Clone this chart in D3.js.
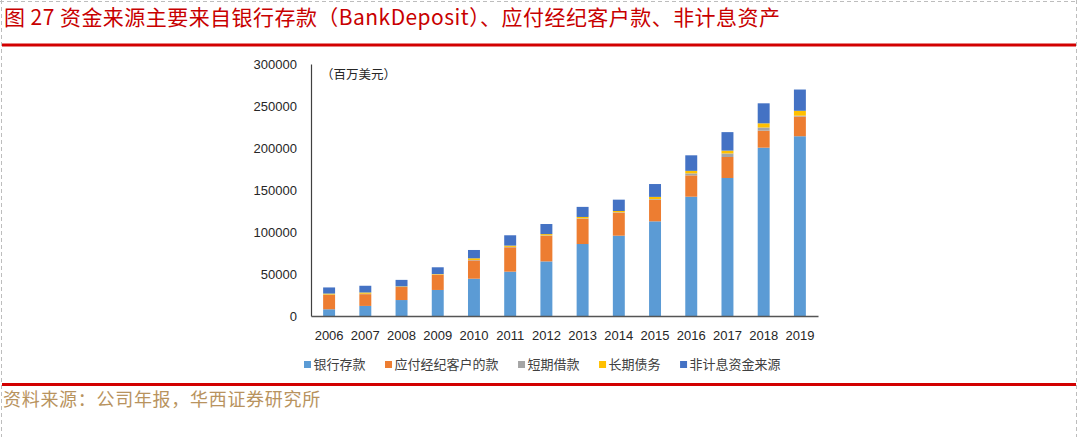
<!DOCTYPE html>
<html>
<head>
<meta charset="utf-8">
<script src="https://cdn.jsdelivr.net/npm/d3@7"></script>
<style>
  html, body { margin: 0; padding: 0; background: #fff; }
  svg { display: block; }
</style>
</head>
<body>
<svg id="chart" width="1080" height="437"></svg>
<script>
// ---- data ----
const years = ["2006","2007","2008","2009","2010","2011","2012","2013","2014","2015","2016","2017","2018","2019"];
const bankDeposits   = [8000, 12000, 19000, 31000, 44400, 52800, 65000, 85700, 95600, 112700, 142000, 164300, 200400, 214000];
const brokerPayables = [17000, 14000, 15500, 18200, 21800, 29000, 30500, 30100, 27400, 25600, 25400, 25000, 20200, 23500];
const shortBorrowing = [500, 500, 300, 300, 500, 500, 500, 500, 500, 800, 2400, 4200, 3800, 1000];
const longTermDebt   = [1200, 1500, 500, 500, 2000, 1500, 1500, 1600, 1500, 2700, 3000, 3400, 5000, 5800];
const nonInterest    = [7300, 8000, 7700, 8000, 9900, 12300, 12000, 12000, 13500, 15300, 18500, 22000, 23800, 25300];
const seriesNames = ["银行存款", "应付经纪客户的款", "短期借款", "长期债务", "非计息资金来源"];
const yTicks = [0, 50000, 100000, 150000, 200000, 250000, 300000];
const titleText = "图 27 资金来源主要来自银行存款（BankDeposit）、应付经纪客户款、非计息资产";
const sourceText = "资料来源：公司年报，华西证券研究所";
const unitText = "（百万美元）";

const colors = ["#5B9BD5", "#ED7D31", "#A5A5A5", "#FFC000", "#4472C4"];
const seriesValues = [bankDeposits, brokerPayables, shortBorrowing, longTermDebt, nonInterest];

const rows = years.map((y, i) => {
  const r = { year: y };
  seriesNames.forEach((n, k) => r[n] = seriesValues[k][i]);
  return r;
});

const svg = d3.select("#chart");
const cjk = "'Noto Sans CJK SC', 'Noto Sans', sans-serif";

// frame (dashed)
const frame = svg.append("g").attr("stroke", "#bdbdbd").attr("stroke-dasharray", "4,3").attr("fill", "none");
frame.append("line").attr("x1", 1.5).attr("x2", 1.5).attr("y1", 0).attr("y2", 437);
frame.append("line").attr("x1", 1076.5).attr("x2", 1076.5).attr("y1", 0).attr("y2", 437);
frame.append("line").attr("x1", 0).attr("x2", 1077).attr("y1", 1.5).attr("y2", 1.5);

// title
svg.append("text").attr("x", 4).attr("y", 25)
  .attr("font-family", cjk).attr("font-size", 21).attr("fill", "#C80000")
  .attr("letter-spacing", 0.45)
  .text(titleText);

// red rules
svg.append("rect").attr("x", 2).attr("y", 43.5).attr("width", 1074).attr("height", 3).attr("fill", "#D20000");
svg.append("rect").attr("x", 2).attr("y", 383).attr("width", 1074).attr("height", 3).attr("fill", "#D20000");

// source
svg.append("text").attr("x", 3).attr("y", 406)
  .attr("font-family", cjk).attr("font-size", 18).attr("fill", "#B8935E")
  .attr("letter-spacing", 0.7)
  .text(sourceText);

// scales
const x = d3.scaleBand().domain(years).range([311, 818]).paddingInner(0.67).paddingOuter(0.335);
const y = d3.scaleLinear().domain([0, 300000]).range([316, 64]);

const stack = d3.stack().keys(seriesNames);
const stacked = stack(rows);

svg.append("g").selectAll("g").data(stacked).join("g")
  .attr("fill", (d, i) => colors[i])
  .selectAll("rect").data(d => d).join("rect")
  .attr("x", d => x(d.data.year))
  .attr("width", x.bandwidth())
  .attr("y", d => y(d[1]))
  .attr("height", d => Math.max(0, y(d[0]) - y(d[1])));

// y axis
const yAxis = svg.append("g").attr("transform", "translate(311,0)")
  .call(d3.axisLeft(y).tickValues(yTicks).tickSize(0).tickSizeOuter(0).tickPadding(14).tickFormat(d3.format("d")));
yAxis.select(".domain").attr("stroke", "#404040").attr("stroke-width", 1.2);
yAxis.selectAll("text").attr("font-family", "'Liberation Sans', Arial, sans-serif").attr("font-size", 13).attr("fill", "#262626");

// x axis
const xAxis = svg.append("g").attr("transform", "translate(0,316)")
  .call(d3.axisBottom(x).tickSize(0).tickSizeOuter(0).tickPadding(15));
xAxis.select(".domain").attr("stroke", "#555").attr("stroke-width", 1.4);
xAxis.selectAll("text").attr("font-family", "'Liberation Sans', Arial, sans-serif").attr("font-size", 13).attr("fill", "#262626");

// unit label
svg.append("text").attr("x", 321).attr("y", 79)
  .attr("font-family", cjk).attr("font-size", 12.5).attr("fill", "#262626")
  .text(unitText);

// legend
const legend = svg.append("g");
let lx = 304;
seriesNames.forEach((n, i) => {
  legend.append("rect").attr("x", lx).attr("y", 361).attr("width", 7).attr("height", 7).attr("fill", colors[i]);
  const t = legend.append("text").attr("x", lx + 9.5).attr("y", 369)
    .attr("font-family", cjk).attr("font-size", 13).attr("fill", "#404040").text(n);
  lx = lx + 9.5 + t.node().getComputedTextLength() + 19.5;
});
</script>
</body>
</html>
